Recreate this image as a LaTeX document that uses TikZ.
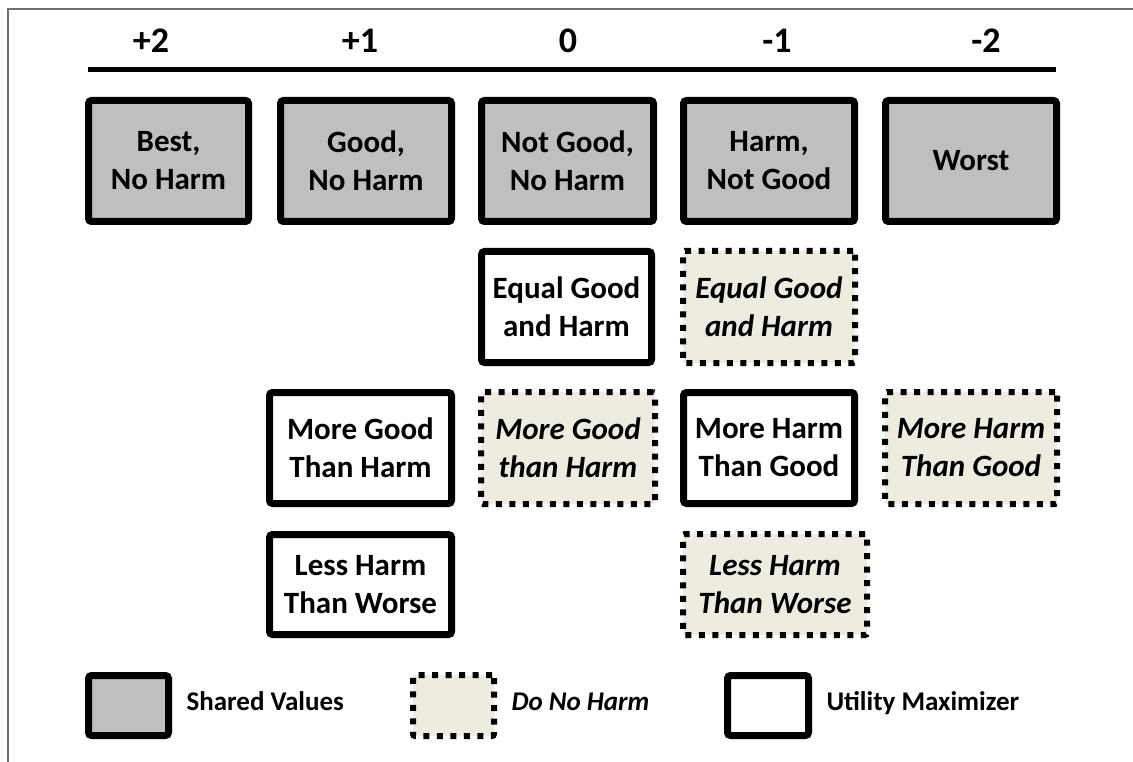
\documentclass[tikz,border=0pt]{standalone}
\usepackage{fontspec}
\setmainfont{Carlito}
\usetikzlibrary{positioning}
\definecolor{shared}{RGB}{191,191,191}
\definecolor{noharm}{RGB}{238,236,225}
\definecolor{framegray}{RGB}{110,110,110}
\newcommand{\boxfont}{\fontsize{31}{38}\selectfont\bfseries}
\tikzset{
  sharedbox/.style={draw=black, fill=shared, line width=7pt, rounded corners=3pt,
    inner sep=0pt, align=center, font=\boxfont},
  utilbox/.style={sharedbox, fill=white},
  harmbox/.style={draw=black, fill=noharm, line width=6pt, dash pattern=on 6pt off 7.5pt,
    rounded corners=2pt, inner sep=0pt, align=center, font=\boxfont\itshape},
  scorelabel/.style={font=\fontsize{36}{40}\selectfont\bfseries},
  legendtext/.style={font=\fontsize{27}{30}\selectfont\bfseries, text height=19pt, text depth=6pt},
}
\newcommand{\cell}[6]{\node[#1, minimum width=#4pt, minimum height=#5pt] (#2) at #3 {#6};}

\begin{document}
\begin{tikzpicture}[x=1pt, y=-1pt]
\useasboundingbox (0,0) rectangle (1133,762);
\draw[framegray, line width=1.5pt] (8,762) -- (8,9) -- (1133,9);
% score scale
\foreach \lab/\xx [count=\i] in {+2/151, +1/360, 0/568, -1/777, -2/986}
  \node[scorelabel] (score\i) at (\xx,41) {\lab};
\coordinate (ruleW) at (88,69.5);
\coordinate (ruleE) at (1056,69.5);
\draw[line width=5pt] (ruleW) -- (ruleE);
% shared values row
\cell{sharedbox}{best}{(168.5,161)}{160}{121}{Best,\\No Harm}
\cell{sharedbox}{good}{(366,161)}{171}{121}{Good,\\No Harm}
\cell{sharedbox}{notgood}{(567.5,161)}{172}{121}{Not Good,\\No Harm}
\cell{sharedbox}{harm}{(769,161)}{171}{121}{Harm,\\Not Good}
\cell{sharedbox}{worst}{(971,161)}{171}{121}{Worst}
% equal
\cell{utilbox}{equalU}{(566.5,307)}{170}{111}{Equal Good\\and Harm}
\cell{harmbox}{equalH}{(769,307)}{172}{112}{Equal Good\\and Harm}
% more
\cell{utilbox}{moregoodU}{(360.5,448)}{182}{111}{More Good\\Than Harm}
\cell{harmbox}{moregoodH}{(568,448)}{174}{112}{More Good\\than Harm}
\cell{utilbox}{moreharmU}{(769,448)}{171}{111}{More Harm\\Than Good}
\cell{harmbox}{moreharmH}{(971,448)}{172}{112}{More Harm\\Than Good}
% less
\cell{utilbox}{lessharmU}{(360.5,584.5)}{182}{100}{Less Harm\\Than Worse}
\cell{harmbox}{lessharmH}{(775,584.5)}{184}{101}{Less Harm\\Than Worse}
% legend
\cell{sharedbox}{keyshared}{(128.5,705.5)}{80}{60}{}
\cell{harmbox}{keyharm}{(453.5,705.5)}{81}{61}{}
\cell{utilbox}{keyutil}{(768,705.5)}{81}{60}{}
\node[legendtext, right=11pt of keyshared, yshift=2pt] (txtshared) {Shared Values};
\node[legendtext, right=11pt of keyharm, yshift=2pt] (txtharm) {\itshape Do No Harm};
\node[legendtext, right=11pt of keyutil, yshift=2pt] (txtutil) {Utility Maximizer};
\end{tikzpicture}
\end{document}
